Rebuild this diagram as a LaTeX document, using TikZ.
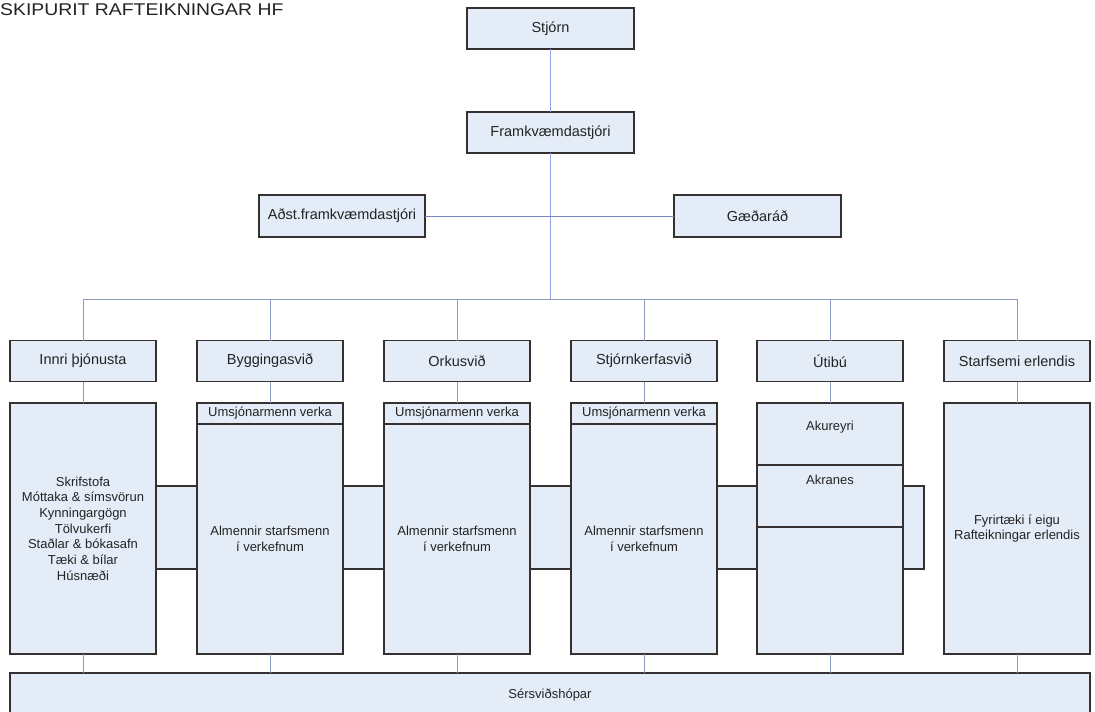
\documentclass[tikz,border=0pt]{standalone}
\usepackage{fontspec}
\setmainfont{Liberation Sans}
\newfontfamily\titlefont[FakeStretch=1.14]{Liberation Sans}
\usetikzlibrary{positioning,calc}
\definecolor{boxfill}{RGB}{228,236,247}
\definecolor{boxedge}{RGB}{55,48,48}
\definecolor{topline}{RGB}{148,158,226}
\definecolor{busline}{RGB}{140,152,190}
\definecolor{inkgray}{RGB}{35,35,35}

\begin{document}
\begin{tikzpicture}[x=1pt,y=-1pt,
    box/.style={draw=boxedge,fill=boxfill,line width=1.1pt,inner sep=0pt,outer sep=0pt,
      minimum width=146pt,text=inkgray,align=center,font=\fontsize{13}{15.7}\selectfont},
    headbox/.style={box,minimum height=41pt,font=\fontsize{14.5}{17}\selectfont},
    link/.style={draw=busline,line width=0.9pt}]
  \path[use as bounding box,clip] (0,0) rectangle (1095,712);
  \fill[white] (0,0) rectangle (1095,712);

  \node[anchor=base west,inner sep=0pt,text=inkgray] (title) at (0,15)
    {\titlefont\fontsize{17}{20}\selectfont SKIPURIT RAFTEIKNINGAR HF};

  % top of the chart
  \node[headbox,minimum width=167pt] (stjorn) at (550.5,28.5) {Stjórn};
  \node[headbox,minimum width=167pt] (framk) at (550.5,132.5) {Framkvæmdastjóri};
  \node[headbox,minimum width=166pt,minimum height=42pt] (adst) at (342,216) {Aðst.framkvæmdastjóri};
  \node[headbox,minimum width=167pt,minimum height=42pt] (gaed) at (757.5,216) {Gæðaráð};
  \coordinate (bus) at (550.5,299);

  \draw[link,draw=topline] (stjorn) -- (framk);
  \draw[link,draw=topline] (framk.south) -- (bus);
  \draw[link,draw=topline!85!black] (adst) -- (gaed);

  % band behind the columns
  \draw[box] (156,486) rectangle (924,569);

  % divisions
  \foreach \i/\cx/\head in {1/83/Innri þjónusta,2/270/Byggingasvið,3/457/Orkusvið,
      4/644/Stjórnkerfasvið,5/830/Útibú,6/1017/Starfsemi erlendis} {
    \node[headbox] (h\i) at (\cx,361) {\head};
    \draw[link] (h\i.north) -- (h\i.north |- bus);
  }
  \draw[link] (h1.north |- bus) -- (h6.north |- bus);

  \node[box,minimum height=251pt] (b1) at (83,528.5)
    {Skrifstofa\\Móttaka \& símsvörun\\Kynningargögn\\Tölvukerfi\\Staðlar \& bókasafn\\Tæki \& bílar\\Húsnæði};
  \foreach \i/\cx in {2/270,3/457,4/644} {
    \node[box,minimum height=21pt] (u\i) at (\cx,413.5) {Umsjónarmenn verka};
    \node[box,minimum height=230pt,below=0pt of u\i] (b\i) {Almennir starfsmenn\\í verkefnum};
  }
  \node[box,minimum height=62pt] (u5) at (830,434) {};
  \node[box,minimum height=62pt,below=0pt of u5] (m5) {};
  \node[box,minimum height=127pt,below=0pt of m5] (b5) {};
  \node[text=inkgray,font=\fontsize{13}{15.7}\selectfont] (akur) at ([yshift=7pt]u5.center) {Akureyri};
  \node[text=inkgray,font=\fontsize{13}{15.7}\selectfont] (akra) at ([yshift=16pt]m5.center) {Akranes};
  \node[box,minimum height=251pt] (b6) at (1017,528.5) {Fyrirtæki í eigu\\Rafteikningar erlendis};

  \draw[link] (h1) -- (b1);
  \foreach \i in {2,3,4,5} \draw[link] (h\i) -- (u\i);
  \draw[link] (h6) -- (b6);

  % bottom group
  \node[box,minimum width=1080pt,minimum height=44pt] (sers) at (550,695) {Sérsviðshópar};
  \foreach \i in {1,...,6} \draw[link] (b\i.south) -- (b\i.south |- sers.north);
\end{tikzpicture}
\end{document}
